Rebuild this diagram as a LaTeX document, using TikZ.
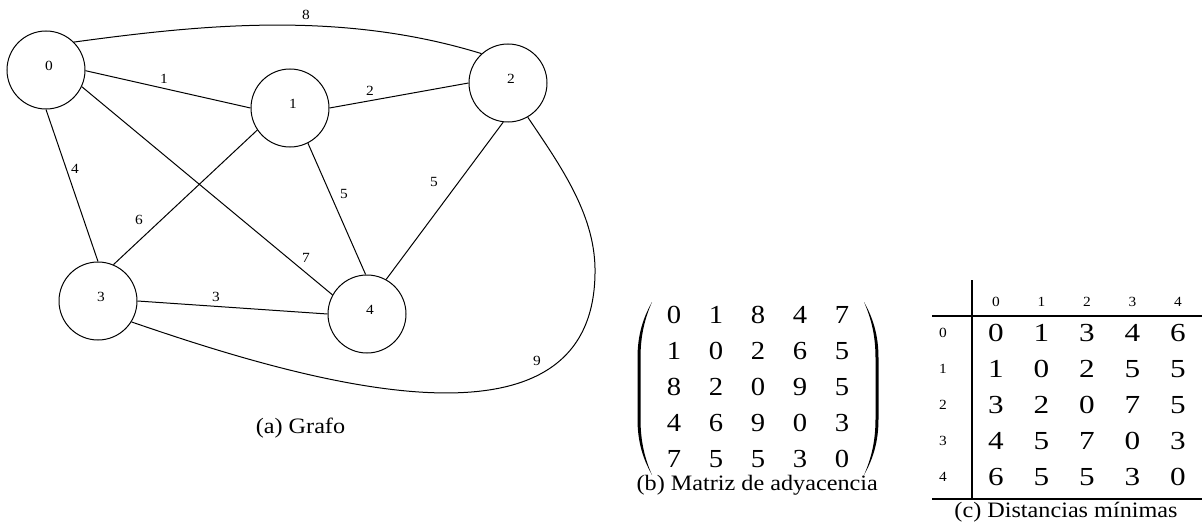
\documentclass[tikz,border=0pt]{standalone}
\usepackage{fontspec}
\setmainfont{Liberation Serif}
\newfontfamily\lblfont[FakeStretch=1.1]{Liberation Serif}
\newfontfamily\capfont[FakeStretch=1.1]{Liberation Serif}
\newfontfamily\matfont[FakeStretch=1.1]{Liberation Serif}
\newfontfamily\tabfont[FakeStretch=1.2]{Liberation Serif}
\tikzset{
  vertex/.style={circle, draw, line width=1pt, minimum size=78pt, inner sep=0pt},
  vlab/.style={inner sep=0pt, xshift=3pt, yshift=4pt, font=\lblfont\fontsize{14}{14}\selectfont},
  elabel/.style={inner sep=0pt, font=\lblfont\fontsize{14}{14}\selectfont},
  conn/.style={line width=1pt},
  capt/.style={inner sep=0pt, anchor=base, font=\capfont\fontsize{22}{26}\selectfont},
  matd/.style={inner sep=0pt, font=\matfont\fontsize{26}{26}\selectfont},
  tabd/.style={inner sep=0pt, font=\tabfont\fontsize{26}{26}\selectfont},
  hdr/.style={inner sep=0pt, font=\lblfont\fontsize{14}{14}\selectfont},
  tabline/.style={line width=1.3pt}
}
\begin{document}
\begin{tikzpicture}[x=1pt, y=-1pt]
\useasboundingbox (0,0) rectangle (1202,524);

% --- graph ---
\node[vertex, label={[vlab]center:0}] (n0) at (46,70) {};
\node[vertex, label={[vlab]center:1}] (n1) at (290,108) {};
\node[vertex, label={[vlab]center:2}] (n2) at (508,83) {};
\node[vertex, label={[vlab]center:3}] (n3) at (98,301) {};
\node[vertex, label={[vlab]center:4}] (n4) at (367,314) {};

\draw[conn] (n0.45) .. controls (200,25) and (340,10) .. (n2.132);
\draw[conn] (n0.-1) -- (n1.180);
\draw[conn] (n1.0) -- (n2.180);
\draw[conn] (n0.-90) -- (n3.90);
\draw[conn] (n0.-25) -- (n4.151);
\draw[conn] (n1.-146) -- (n3.67);
\draw[conn] (n1.-63) -- (n4.92);
\draw[conn] (n2.-97) -- (n4.61);
\draw[conn] (n3.0) -- (n4.180);
\draw[conn] (n3.-32) .. controls (300,380) and (598,470) .. (595,268)
                    .. controls (594,213) and (560,165) .. (n2.-60);

\node[elabel] (l02) at (306,15) {8};
\node[elabel] (l01) at (164,79) {1};
\node[elabel] (l12) at (370,91) {2};
\node[elabel] (l03) at (75,169) {4};
\node[elabel] (l13) at (139,220) {6};
\node[elabel] (l14) at (344,194) {5};
\node[elabel] (l24) at (434,182) {5};
\node[elabel] (l04) at (306,258) {7};
\node[elabel] (l34) at (216,297) {3};
\node[elabel] (l23) at (537,361) {9};

\node[capt] (capa) at (300.5,433) {(a) Grafo};

% --- adjacency matrix ---
\foreach \row [count=\r] in {{0,1,8,4,7},{1,0,2,6,5},{8,2,0,9,5},{4,6,9,0,3},{7,5,5,3,0}} {
  \foreach \v [count=\c] in \row {
    \node[matd] (m\r\c) at ({632+42*\c},{279+36*\r}) {\v};
  }
}
\fill (652,302) .. controls (643,318) and (637.5,335) .. (637.5,358) -- (637.5,419)
      .. controls (637.5,442) and (643,459) .. (652,475)
      .. controls (645,459) and (640.5,442) .. (640.5,419) -- (640.5,358)
      .. controls (640.5,335) and (645,318) .. (652,302) -- cycle;
\fill (864,302) .. controls (873,318) and (878.5,335) .. (878.5,358) -- (878.5,419)
      .. controls (878.5,442) and (873,459) .. (864,475)
      .. controls (871,459) and (875.5,442) .. (875.5,419) -- (875.5,358)
      .. controls (875.5,335) and (871,318) .. (864,302) -- cycle;
\node[capt, anchor=base east] (capb) at (878,490) {(b) Matriz de adyacencia};

% --- distance table ---
\draw[tabline] (972,280) -- (972,499);
\draw[tabline] (932,316) -- (1202,316);
\draw[tabline] (932,499) -- (1202,499);
\foreach \h [count=\c from 0] in {0,1,2,3,4} {
  \node[hdr] (h\c) at ({996+45.5*\c},302) {\h};
  \node[hdr] (r\c) at (943,{333+36*\c}) {\h};
}
\foreach \row [count=\r from 0] in {{0,1,3,4,6},{1,0,2,5,5},{3,2,0,7,5},{4,5,7,0,3},{6,5,5,3,0}} {
  \foreach \v [count=\c from 0] in \row {
    \node[tabd] (t\r\c) at ({996+45.5*\c},{333+36*\r}) {\v};
  }
}
\node[capt] (capc) at (1066,517) {(c) Distancias mínimas};
\end{tikzpicture}
\end{document}
